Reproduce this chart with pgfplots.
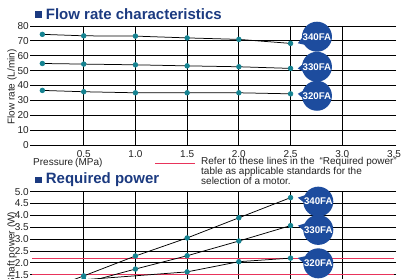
\documentclass[border=0pt]{standalone}
\usepackage{fontspec}
\setmainfont{Liberation Sans}
\usepackage{pgfplots}
\pgfplotsset{compat=1.18}
\definecolor{navy}{HTML}{1B3A80}
\definecolor{bub}{HTML}{1D4C9E}
\definecolor{mk}{HTML}{168391}
\definecolor{refred}{HTML}{E8345B}
\definecolor{txt}{HTML}{222222}

% #1 cx, #2 cy, #3 tip x, #4 tip y, #5 angle a, #6 angle b, #7 text
\newcommand{\bubble}[7]{%
  \coordinate (bc) at (axis cs:#1,#2);
  \coordinate (bt) at (axis cs:#3,#4);
  \fill[bub] (bt) -- ([shift={(#5:14.5pt)}]bc) -- ([shift={(#6:14.5pt)}]bc) -- cycle;
  \fill[bub] (bc) circle[radius=15pt];
  \node[text=white,font=\fontsize{9.7}{10}\selectfont\bfseries,inner sep=0pt] at (bc) {#7};
}

\pgfplotsset{mystyle/.style={
  scale only axis, width=362pt, xmin=0, xmax=3.5,
  axis line style={draw=none},
  grid=major, grid style={black, line width=0.8pt},
  tick align=outside, major tick length=2pt,
  xtick style={draw=none}, ytick style={black, line width=0.8pt},
  tick label style={font=\fontsize{10}{12}\selectfont, text=txt},
  yticklabel style={inner sep=1pt},
  /pgf/number format/assume math mode=true,
  xtick={0.5,1.0,1.5,2.0,2.5,3.0},
  extra x tick style={grid=none},
  clip=false,
}}
\pgfplotsset{dat/.style={black, line width=0.75pt, mark=*, mark size=2.3pt, mark options={fill=mk, draw=mk}}}

\begin{document}
\begin{tikzpicture}
\useasboundingbox (0pt,0pt) rectangle (403pt,278pt);
\clip (0pt,0pt) rectangle (403pt,278pt);

% titles
\fill[navy] (35pt,260.3pt) rectangle (41.5pt,267pt);
\node[anchor=base west, inner sep=0pt, text=navy, font=\fontsize{15}{16}\selectfont\bfseries] at (45.7pt,258pt) {Flow rate characteristics};
\fill[navy] (35pt,94.7pt) rectangle (41.7pt,101.3pt);
\node[anchor=base west, inner sep=0pt, text=navy, font=\fontsize{15}{16}\selectfont\bfseries] at (45.7pt,94pt) {Required power};

% axis labels
\node[rotate=90, text=txt, font=\fontsize{10}{12}\selectfont] at (12pt,191pt) {Flow rate\hspace{3pt}(L/min)};
\node[anchor=base west, inner sep=0pt, text=txt, font=\fontsize{10}{12}\selectfont] at (33pt,112.3pt) {Pressure\hspace{2pt}(MPa)};
\node[rotate=90, text=txt, font=\fontsize{10}{12}\selectfont] at (12pt,30pt) {Shaft power\hspace{3pt}(W)};

% reference note
\draw[refred, line width=1.3pt] (155pt,114.3pt) -- (195pt,114.3pt);
\begin{scope}[every node/.style={anchor=base west, inner sep=0pt, text=txt, font=\fontsize{10}{12}\selectfont}]
\node at (201pt,113.7pt) {Refer to these lines in the\hspace{5pt}“Required power”};
\node at (201pt,103.7pt) {table as applicable standards for the};
\node at (201pt,93.7pt) {selection of a motor.};
\end{scope}

% top chart
\begin{axis}[mystyle, at={(32pt,133pt)}, anchor=south west, height=119pt,
  ymin=0, ymax=80, ytick={0,10,...,80},
  xticklabels={0.5,1.0,1.5,2.0,2.5,3.0},
  extra x ticks={3.5}, extra x tick labels={3.5}]
\addplot[dat] coordinates {(0.1,74.4) (0.5,73.4) (1.0,73.2) (1.5,72.0) (2.0,71.0) (2.5,68.3)};
\addplot[dat] coordinates {(0.1,54.8) (0.5,54.4) (1.0,53.9) (1.5,53.2) (2.0,52.6) (2.5,51.5)};
\addplot[dat] coordinates {(0.1,36.7) (0.5,35.8) (1.0,35.1) (1.5,35.1) (2.0,35.1) (2.5,34.4)};
\bubble{2.755}{72.8}{2.57}{68.4}{182}{214}{340FA}
\bubble{2.755}{52.6}{2.57}{51.5}{170}{200}{330FA}
\bubble{2.755}{33.1}{2.57}{34.4}{159}{189}{320FA}
\end{axis}

% bottom chart (its lower part lies below the picture's edge, as in the reference)
\begin{axis}[mystyle, at={(32pt,-32.3pt)}, anchor=south west, height=118.6pt,
  ymin=0, ymax=5, ytick={0,0.5,...,5},
  xticklabels={},
  yticklabels={0.0,0.5,1.0,1.5,2.0,2.5,3.0,3.5,4.0,4.5,5.0}]
\addplot[refred, line width=1pt, no marks] coordinates {(0,2.2) (3.5,2.2)};
\addplot[refred, line width=1pt, no marks] coordinates {(0,1.5) (3.5,1.5)};
\addplot[dat] coordinates {(0.1,0.8) (0.5,1.45) (1.0,2.29) (1.5,3.05) (2.0,3.9) (2.5,4.75)};
\addplot[dat] coordinates {(0.1,0.65) (0.5,1.15) (1.0,1.74) (1.5,2.3) (2.0,2.92) (2.5,3.57)};
\addplot[dat] coordinates {(0.1,1.0) (0.5,1.29) (1.5,1.62) (2.0,2.05) (2.5,2.2)};
\bubble{2.768}{4.58}{2.57}{4.75}{153}{183}{340FA}
\bubble{2.768}{3.39}{2.57}{3.57}{153}{183}{330FA}
\bubble{2.768}{1.98}{2.57}{2.21}{150}{180}{320FA}
\end{axis}
\end{tikzpicture}
\end{document}
